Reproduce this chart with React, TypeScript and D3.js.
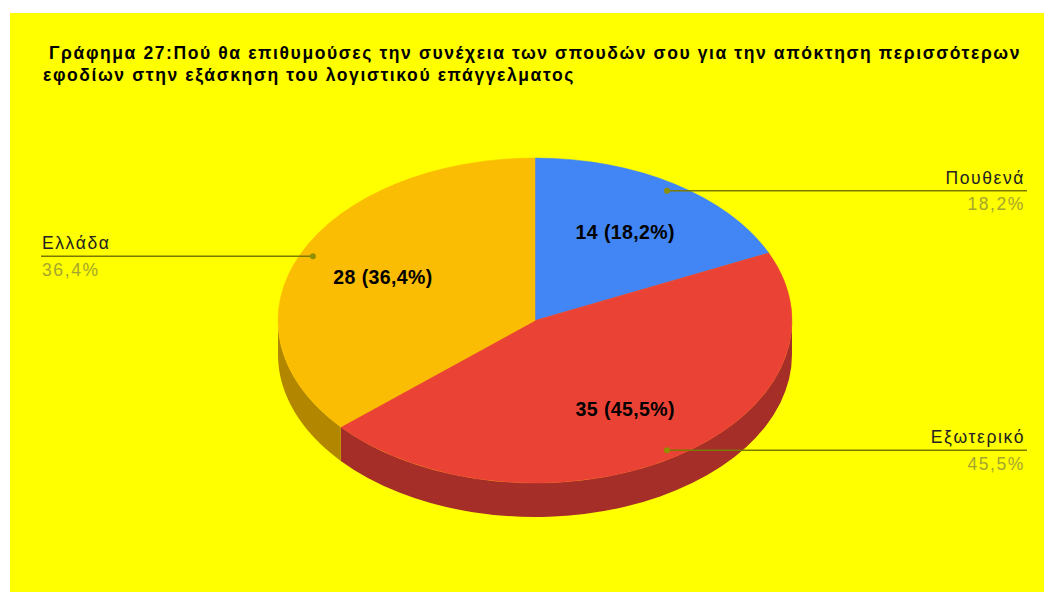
import React from "react";
import * as d3 from "d3";

const titleLines = [
  "Γράφημα 27:Πού θα επιθυμούσες την συνέχεια των σπουδών σου για την απόκτηση περισσότερων",
  "εφοδίων στην εξάσκηση του λογιστικού επάγγελματος",
];
const categories = ["Πουθενά", "Εξωτερικό", "Ελλάδα"];
const values = [14, 35, 28];
const percentLabels = ["18,2%", "45,5%", "36,4%"];
const topColors = ["#4285f4", "#ea4335", "#fbbc04"];
const sideColors = ["#2a5aa8", "#a52f28", "#b38600"];

const W = 1044;
const H = 592;
const cx = 535;
const cy = 320.5;
const rx = 257;
const ry = 162.5;
const depth = 34;
const FONT = "'Liberation Sans', Arial, sans-serif";

function pt(a: number, f = 1, dy = 0): [number, number] {
  return [cx + rx * f * Math.sin(a), cy - ry * f * Math.cos(a) + dy];
}

export default function App() {
  const pie = d3.pie<number>().sort(null).value((d) => d);
  const arcs = pie(values);
  const total = d3.sum(values);

  const topPath = (a0: number, a1: number) => {
    const p0 = pt(a0);
    const p1 = pt(a1);
    const large = a1 - a0 > Math.PI ? 1 : 0;
    return `M${cx},${cy}L${p0[0]},${p0[1]}A${rx},${ry} 0 ${large} 1 ${p1[0]},${p1[1]}Z`;
  };
  const sidePath = (a0: number, a1: number) => {
    const s0 = Math.max(a0, Math.PI / 2);
    const s1 = Math.min(a1, (3 * Math.PI) / 2);
    if (s0 >= s1) return null;
    const p0 = pt(s0);
    const p1 = pt(s1);
    const q0 = pt(s0, 1, depth);
    const q1 = pt(s1, 1, depth);
    return `M${p0[0]},${p0[1]}A${rx},${ry} 0 0 1 ${p1[0]},${p1[1]}L${q1[0]},${q1[1]}A${rx},${ry} 0 0 0 ${q0[0]},${q0[1]}Z`;
  };

  const lineLeft = 41;
  const lineRight = 1027;
  const titleX = [49, 43];

  return (
    <svg
      width={W}
      height={H}
      style={{ position: "absolute", left: 0, top: 0, display: "block" }}
    >
      <rect x={0} y={0} width={W} height={H} fill="#ffffff" />
      <rect x={10} y={13} width={W - 10} height={H - 13} fill="#ffff00" />
      {titleLines.map((t, i) => (
        <text
          key={i}
          x={titleX[i]}
          y={59 + i * 22}
          fontFamily={FONT}
          fontWeight="bold"
          fontSize={17.5}
          letterSpacing={1.6}
          fill="#000"
        >
          {t}
        </text>
      ))}
      {arcs.map((a, i) => {
        const d = sidePath(a.startAngle, a.endAngle);
        return d ? <path key={"s" + i} d={d} fill={sideColors[i]} /> : null;
      })}
      {arcs.map((a, i) => (
        <path
          key={"t" + i}
          d={topPath(a.startAngle, a.endAngle)}
          fill={topColors[i]}
          stroke={topColors[i]}
          strokeWidth={0.5}
        />
      ))}
      {arcs.map((a, i) => {
        const mid = (a.startAngle + a.endAngle) / 2;
        const [tx, ty] = pt(mid, 0.65);
        const pct = ((a.value / total) * 100).toFixed(1).replace(".", ",");
        return (
          <text
            key={"l" + i}
            x={tx}
            y={ty + 7}
            textAnchor="middle"
            fontFamily={FONT}
            fontWeight="bold"
            fontSize={19.5}
            letterSpacing={0.4}
            fill="#000"
          >
            {`${a.value} (${pct}%)`}
          </text>
        );
      })}
      {arcs.map((a, i) => {
        const mid = (a.startAngle + a.endAngle) / 2;
        const [dx, dy] = pt(mid, 0.95);
        const right = Math.sin(mid) > 0;
        const endX = right ? lineRight : lineLeft;
        const textX = right ? lineRight - 2 : lineLeft + 1;
        const anchor = right ? "end" : "start";
        return (
          <g key={"c" + i}>
            <line x1={dx} y1={dy} x2={endX} y2={dy} stroke="#7a7a00" strokeWidth={1.5} />
            <circle cx={dx} cy={dy} r={3} fill="#8f8f00" />
            <text
              x={textX}
              y={dy - 7}
              textAnchor={anchor}
              fontFamily={FONT}
              fontSize={17.5}
              letterSpacing={1.6}
              fill="#222222"
            >
              {categories[i]}
            </text>
            <text
              x={textX}
              y={dy + 19.5}
              textAnchor={anchor}
              fontFamily={FONT}
              fontSize={17.5}
              letterSpacing={1.6}
              fill="#a6a62e"
            >
              {percentLabels[i]}
            </text>
          </g>
        );
      })}
    </svg>
  );
}
